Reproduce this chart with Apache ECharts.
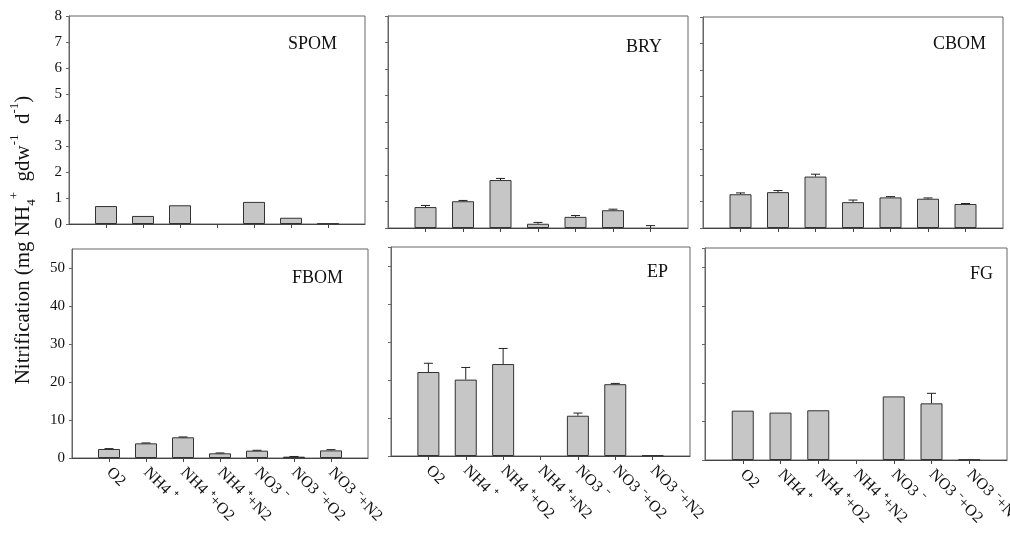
<!DOCTYPE html>
<html><head><meta charset="utf-8">
<script src="https://cdn.jsdelivr.net/npm/echarts@6/dist/echarts.min.js"></script>
<style>html,body{margin:0;padding:0;background:#fff}#c{width:1010px;height:534px}</style>
</head><body><div id="c"></div>
<script>
// ---- data ----
const categories = ['O2', 'NH4 \u207A', 'NH4 \u207A+O2', 'NH4 \u207A+N2', 'NO3 \u207B', 'NO3 \u207B+O2', 'NO3 \u207B+N2'];
const panelNames = ['SPOM', 'BRY', 'CBOM', 'FBOM', 'EP', 'FG'];
const spomVals = [0.69, 0.31, 0.72, 0, 0.85, 0.24, 0.02];
const spomErr  = [0, 0, 0, 0, 0, 0, 0];
const bryVals  = [0.79, 1.01, 1.81, 0.16, 0.42, 0.67, 0];
const bryErr   = [0.06, 0.03, 0.06, 0.05, 0.05, 0.04, 0.09];
const cbomVals = [1.28, 1.36, 1.95, 0.98, 1.16, 1.11, 0.91];
const cbomErr  = [0.05, 0.06, 0.09, 0.08, 0.03, 0.03, 0.02];
const fbomVals = [2.37, 3.86, 5.44, 1.23, 1.93, 0.35, 2.0];
const fbomErr  = [0.1, 0.1, 0.1, 0.1, 0.1, 0.05, 0.2];
const epVals   = [22.1, 20.1, 24.2, 0, 10.6, 18.9, 0.2];
const epErr    = [2.3, 3.2, 4.1, 0, 0.7, 0.2, 0];
const fgVals   = [12.8, 12.3, 12.9, 0, 16.5, 14.7, 0.1];
const fgErr    = [0, 0, 0, 0, 0, 2.6, 0];
const topTicks = ['0', '1', '2', '3', '4', '5', '6', '7', '8'];
const bottomTicks = ['0', '10', '20', '30', '40', '50'];

// ---- layout ----
const FONT = 'Liberation Serif';
const panels = [
  {vals: spomVals, err: spomErr, grid: {left: 69, top: 16, width: 296, height: 208}, row: 0, yLabels: true,  title: {right: 673, top: 35}},
  {vals: bryVals,  err: bryErr,  grid: {left: 388, top: 16, width: 300, height: 212}, row: 0, yLabels: false, title: {right: 348, top: 38}},
  {vals: cbomVals, err: cbomErr, grid: {left: 703, top: 17, width: 300, height: 211}, row: 0, yLabels: false, title: {right: 24, top: 35}},
  {vals: fbomVals, err: fbomErr, grid: {left: 72, top: 249, width: 296, height: 209}, row: 1, yLabels: true,  title: {right: 667, top: 269}},
  {vals: epVals,   err: epErr,   grid: {left: 391, top: 247, width: 299, height: 209}, row: 1, yLabels: false, title: {right: 342, top: 263}},
  {vals: fgVals,   err: fgErr,   grid: {left: 705, top: 248, width: 302, height: 212}, row: 1, yLabels: false, title: {right: 17, top: 265}}
];

const xData = [''].concat(categories, ['']);
const grid = [], xAxis = [], yAxis = [], series = [], title = [];
panels.forEach((p, i) => {
  grid.push(Object.assign({show: true, containLabel: false, outerBoundsMode: 'none',
    borderColor: '#666', borderWidth: 1, backgroundColor: 'transparent'}, p.grid));
  title.push({text: panelNames[i], right: p.title.right, top: p.title.top, padding: 0,
    textStyle: {fontFamily: FONT, fontSize: 18, fontWeight: 'normal', color: '#111'}});
  xAxis.push({type: 'category', gridIndex: i, data: xData, boundaryGap: false,
    axisLine: {show: true, lineStyle: {color: '#444', width: 1}},
    axisTick: {show: true, length: 4, lineStyle: {color: '#444'}, interval: (idx) => idx >= 1 && idx <= categories.length},
    axisLabel: {show: p.row === 1, interval: 0, rotate: -45, margin: 12, fontFamily: FONT, fontSize: 16, color: '#111',
      hideOverlap: false},
    splitLine: {show: false}});
  const ticks = p.row === 0 ? topTicks : bottomTicks;
  yAxis.push({type: 'value', gridIndex: i, min: 0, max: p.row === 0 ? 8 : 55, interval: p.row === 0 ? 1 : 10,
    axisLine: {show: true, lineStyle: {color: '#666'}},
    axisTick: {show: true, length: 3, lineStyle: {color: '#666'}},
    axisLabel: {show: p.yLabels, showMaxLabel: p.row === 0, margin: 7, fontFamily: FONT, fontSize: 15, color: '#111',
      formatter: (v) => ticks.indexOf(String(v)) >= 0 ? String(v) : ''},
    splitLine: {show: false}});
  series.push({type: 'bar', xAxisIndex: i, yAxisIndex: i, barWidth: 22,
    data: [null].concat(p.vals.map(v => v === 0 ? null : v), [null]),
    itemStyle: {color: '#c6c6c6', borderColor: '#333', borderWidth: 1},
    silent: true, animation: false});
  series.push({type: 'custom', xAxisIndex: i, yAxisIndex: i, z: 5, silent: true, animation: false,
    data: p.vals.map((v, k) => [k + 1, v, p.err[k]]),
    renderItem: (params, api) => {
      const idx = api.value(0), v = api.value(1), e = api.value(2);
      if (!e) return null;
      const a = api.coord([idx, v]), b = api.coord([idx, v + e]);
      const st = {stroke: '#222', lineWidth: 1};
      return {type: 'group', children: [
        {type: 'line', shape: {x1: a[0], y1: a[1], x2: b[0], y2: b[1]}, style: st},
        {type: 'line', shape: {x1: b[0] - 4.5, y1: b[1], x2: b[0] + 4.5, y2: b[1]}, style: st}
      ]};
    }});
});

const chart = echarts.init(document.getElementById('c'), null, {renderer: 'canvas'});
chart.setOption({
  backgroundColor: '#fff',
  animation: false,
  title, grid, xAxis, yAxis, series,
  graphic: [{
    type: 'text', x: 23, y: 240, rotation: Math.PI / 2,
    style: {
      text: '{n|Nitrification (mg NH}{sub|4}{sup|+}{n|  gdw}{sup|-1}{n|  d}{sup|-1}{n|)}',
      align: 'center', verticalAlign: 'middle', fill: '#111',
      rich: {
        n: {fontFamily: FONT, fontSize: 21, lineHeight: 30, verticalAlign: 'middle', fill: '#111'},
        sub: {fontFamily: FONT, fontSize: 13, lineHeight: 30, verticalAlign: 'bottom', fill: '#111'},
        sup: {fontFamily: FONT, fontSize: 13, lineHeight: 30, verticalAlign: 'top', fill: '#111'}
      }
    }
  }]
});
</script></body></html>
